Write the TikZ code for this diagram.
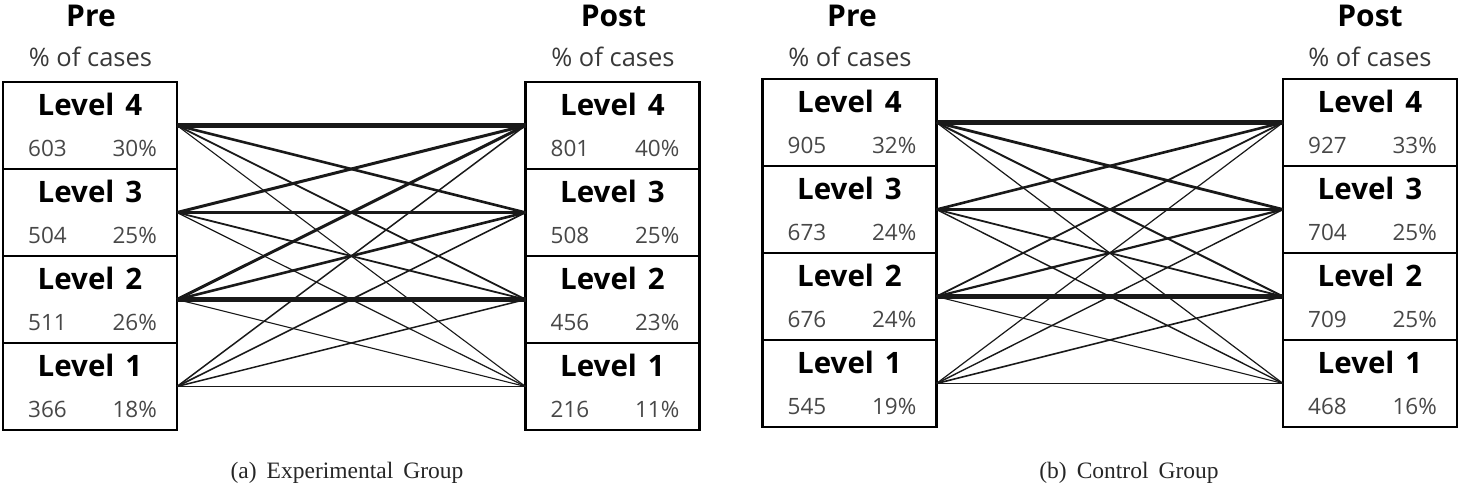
\documentclass[tikz,border=0pt]{standalone}
\usepackage{fontspec}
\setmainfont{Open Sans}
\newfontfamily\capfont{Liberation Serif}
\tikzset{
  rowbox/.style={draw, line width=1.8pt, minimum width=174pt, minimum height=87pt, inner sep=0pt, outer sep=0pt},
  frame/.style={draw, line width=2.6pt},
  lvtext/.style={font=\bfseries\fontsize{29.5}{31}\selectfont, text=black, inner sep=0pt, anchor=base},
  numtext/.style={font=\fontsize{22.5}{24}\selectfont, text=black!72, inner sep=0pt},
  ttl/.style={font=\bfseries\fontsize{30}{32}\selectfont, text=black, inner sep=0pt, anchor=base},
  sub/.style={font=\fontsize{25.5}{27}\selectfont, text=black!78, inner sep=0pt, anchor=base},
  captext/.style={font=\capfont\fontsize{23.5}{26}\selectfont, text=black!85, inner sep=0pt, anchor=base},
  link/.style={draw=black!90, line cap=butt},
}
% #1 name, #2 x centre, #3 y top, #4 level, #5 count, #6 percent
\newcommand{\lvbox}[6]{%
  \node[rowbox] (#1) at (#2, #3+43.5) {};
  \node[lvtext] (#1-t) at ([yshift=-33.5pt]#1.north) {Level\hspace{11pt}#4};
  \node[numtext, anchor=base west] (#1-n) at ([xshift=25pt,yshift=-74.5pt]#1.north west) {#5};
  \node[numtext, anchor=base east] (#1-p) at ([xshift=-20pt,yshift=-74.5pt]#1.north east) {#6\%};
}
% #1 panel, #2 pre level, #3 post level, #4 width
\newcommand{\lk}[4]{\draw[link, line width=#4pt] (#1-pre#2.east) -- (#1-post#3.west);}
\begin{document}
\begin{tikzpicture}[x=1pt, y=-1pt]
\useasboundingbox (0,0) rectangle (1464,489);

% ---------- panel (a) ----------
\lvbox{a-pre4}{90}{82}{4}{603}{30}
\lvbox{a-pre3}{90}{169}{3}{504}{25}
\lvbox{a-pre2}{90}{256}{2}{511}{26}
\lvbox{a-pre1}{90}{343}{1}{366}{18}
\lvbox{a-post4}{612.5}{82}{4}{801}{40}
\lvbox{a-post3}{612.5}{169}{3}{508}{25}
\lvbox{a-post2}{612.5}{256}{2}{456}{23}
\lvbox{a-post1}{612.5}{343}{1}{216}{11}
\draw[frame] (a-pre4.north west) rectangle (a-pre1.south east);
\draw[frame] (a-post4.north west) rectangle (a-post1.south east);
\node[ttl] (a-pretitle) at (91,27) {Pre};
\node[sub] (a-presub) at (90.5,67) {\% of cases};
\node[ttl] (a-posttitle) at (613.5,27) {Post};
\node[sub] (a-postsub) at (613,67) {\% of cases};
\node[captext] (a-cap) at (347,478) {(a)\hspace{10pt}Experimental\hspace{10pt}Group};

\lk{a}{4}{4}{5.0}
\lk{a}{4}{3}{2.6}
\lk{a}{4}{2}{1.8}
\lk{a}{4}{1}{1.1}
\lk{a}{3}{4}{3.0}
\lk{a}{3}{3}{2.6}
\lk{a}{3}{2}{1.8}
\lk{a}{3}{1}{1.2}
\lk{a}{2}{4}{3.0}
\lk{a}{2}{3}{2.6}
\lk{a}{2}{2}{4.2}
\lk{a}{2}{1}{1.1}
\lk{a}{1}{4}{1.5}
\lk{a}{1}{3}{1.6}
\lk{a}{1}{2}{1.5}
\lk{a}{1}{1}{1.3}

% ---------- panel (b) ----------
\lvbox{b-pre4}{849.5}{79}{4}{905}{32}
\lvbox{b-pre3}{849.5}{166}{3}{673}{24}
\lvbox{b-pre2}{849.5}{253}{2}{676}{24}
\lvbox{b-pre1}{849.5}{340}{1}{545}{19}
\lvbox{b-post4}{1370}{79}{4}{927}{33}
\lvbox{b-post3}{1370}{166}{3}{704}{25}
\lvbox{b-post2}{1370}{253}{2}{709}{25}
\lvbox{b-post1}{1370}{340}{1}{468}{16}
\draw[frame] (b-pre4.north west) rectangle (b-pre1.south east);
\draw[frame] (b-post4.north west) rectangle (b-post1.south east);
\node[ttl] (b-pretitle) at (852,27) {Pre};
\node[sub] (b-presub) at (850,67) {\% of cases};
\node[ttl] (b-posttitle) at (1370,27) {Post};
\node[sub] (b-postsub) at (1370,67) {\% of cases};
\node[captext] (b-cap) at (1129,478) {(b)\hspace{10pt}Control\hspace{10pt}Group};

\lk{b}{4}{4}{5.0}
\lk{b}{4}{3}{2.8}
\lk{b}{4}{2}{2.0}
\lk{b}{4}{1}{1.2}
\lk{b}{3}{4}{2.6}
\lk{b}{3}{3}{2.6}
\lk{b}{3}{2}{1.8}
\lk{b}{3}{1}{1.4}
\lk{b}{2}{4}{1.8}
\lk{b}{2}{3}{2.2}
\lk{b}{2}{2}{4.2}
\lk{b}{2}{1}{1.1}
\lk{b}{1}{4}{1.2}
\lk{b}{1}{3}{1.4}
\lk{b}{1}{2}{1.6}
\lk{b}{1}{1}{1.6}
\end{tikzpicture}
\end{document}
